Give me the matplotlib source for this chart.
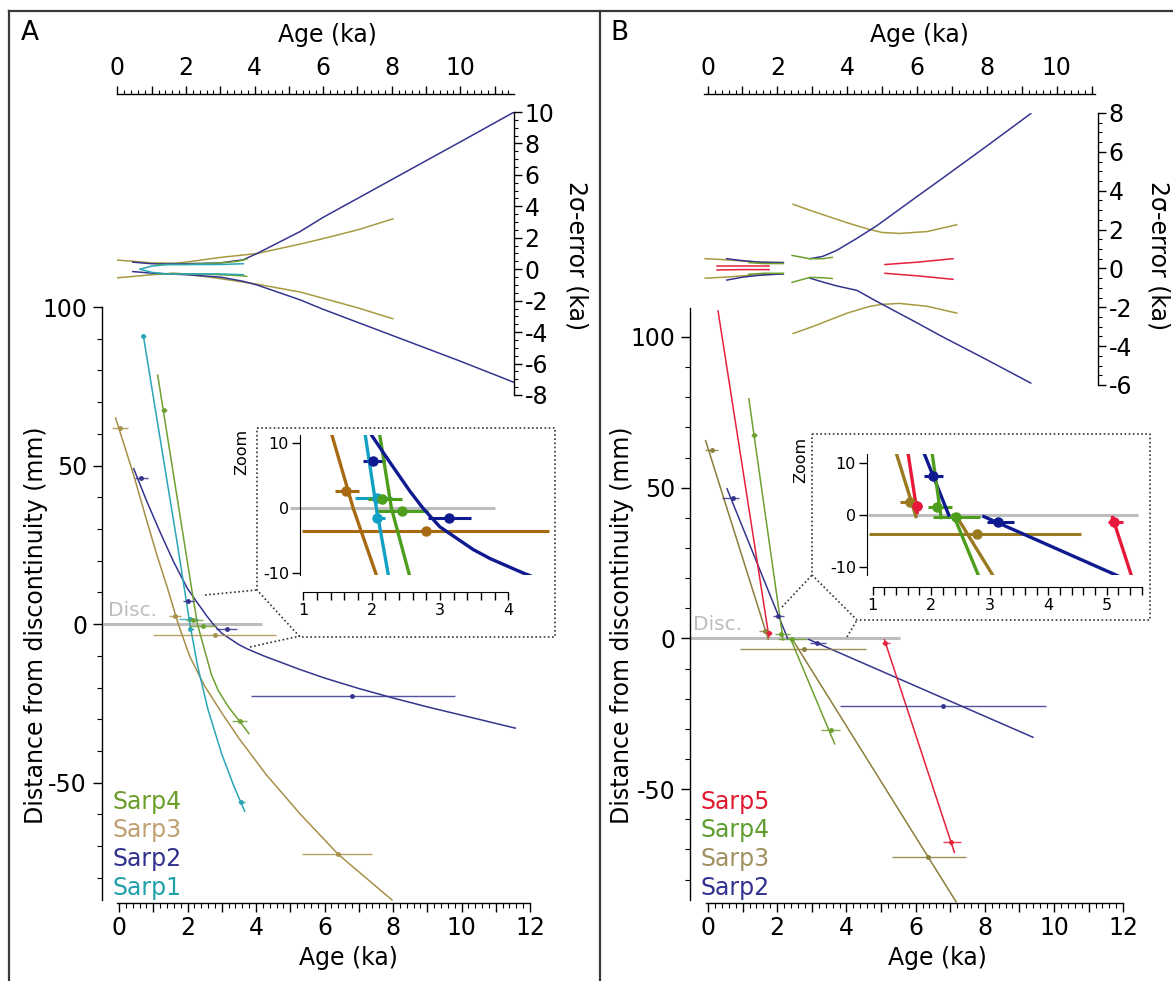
import numpy as np
import matplotlib.pyplot as plt
from matplotlib.ticker import MultipleLocator, FuncFormatter, FixedLocator
from matplotlib.lines import Line2D

W, H = 1173, 981
plt.rcParams['font.family'] = ['DejaVu Sans']
plt.rcParams['axes.unicode_minus'] = False

# ---------------- Panel A data ----------------
# fitted age-depth curves (age in ka, distance in mm)
a1_age = [0.71, 1.2, 1.7, 2.07, 2.3, 2.6, 3.0, 3.35, 3.67]
a1_dist = [91, 58.5, 25.5, 0, -13.5, -27, -41, -51, -59]
a2_age = [0.43, 0.8, 1.2, 1.6, 2.0, 2.27, 2.56, 2.75, 3.0, 3.49, 3.74, 4.22, 5.28, 6.0, 7.0, 8.0, 9.0, 10.0, 11.57]
a2_dist = [49, 39, 29, 19.5, 11.2, 7.0, 2.6, 0.0, -2.9, -6.4, -7.8, -10.0, -14.3, -17.0, -20.3, -23.3, -26.1, -28.7, -32.8]
a3_age = [-0.1, 0.4, 0.8, 1.1, 1.42, 1.73, 2.07, 2.5, 3.0, 3.5, 4.3, 5.3, 6.4, 7.97]
a3_dist = [65, 48, 33, 22, 11.2, 0, -10.3, -19.5, -28, -36, -47.5, -60, -72.6, -87]
a4_age = [1.13, 1.6, 2.12, 2.29, 2.52, 2.7, 2.9, 3.2, 3.52, 3.79]
a4_dist = [78.5, 46.5, 11.2, 0, -9, -16, -21, -26.2, -30.6, -34.5]

# dated samples: age, distance, 2-sigma range (low, high)
pa1_age, pa1_dist = [0.71, 2.08, 2.08, 3.57], [91, 1.5, -1.6, -56]
pa1_lo, pa1_hi = [0.65, 1.76, 2.03, 3.47], [0.78, 2.3, 2.2, 3.67]
pa2_age, pa2_dist = [0.63, 2.02, 3.14, 6.8], [46, 7.3, -1.5, -22.7]
pa2_lo, pa2_hi = [0.48, 1.87, 2.83, 3.85], [0.85, 2.2, 3.45, 9.8]
pa3_age, pa3_dist = [0.03, 1.63, 2.79, 6.4], [62, 2.6, -3.5, -72.6]
pa3_lo, pa3_hi = [-0.2, 1.47, 0.98, 5.35], [0.25, 1.81, 4.59, 7.4]
pa4_age, pa4_dist = [1.3, 2.15, 2.45, 3.53], [67.5, 1.4, -0.5, -30.6]
pa4_lo, pa4_hi = [1.22, 1.95, 2.05, 3.3], [1.4, 2.45, 2.83, 3.75]

# 2-sigma error envelopes
ea1_age = [0.66, 1.0, 1.45, 2.0, 2.5, 3.0, 3.67]
ea1_up = [0.0, 0.2, 0.3, 0.3, 0.3, 0.3, 0.35]
ea1_lo = [0.0, -0.2, -0.3, -0.3, -0.3, -0.3, -0.35]
ea2_age = [0.45, 1.0, 2.0, 3.0, 3.67, 4.07, 5.33, 6.0, 8.0, 10.0, 11.57]
ea2_up = [0.45, 0.35, 0.35, 0.4, 0.6, 1.0, 2.4, 3.3, 5.7, 8.1, 10.0]
ea2_lo = [-0.15, -0.25, -0.35, -0.5, -0.77, -1.0, -1.95, -2.55, -4.2, -5.85, -7.2]
ea3_age = [-0.13, 0.5, 1.0, 1.63, 2.0, 3.0, 4.07, 5.33, 6.0, 7.0, 8.03]
ea3_up = [0.6, 0.5, 0.4, 0.38, 0.45, 0.75, 1.0, 1.6, 1.95, 2.5, 3.2]
ea3_lo = [-0.57, -0.45, -0.35, -0.25, -0.3, -0.6, -0.95, -1.45, -1.85, -2.45, -3.15]
ea4_age = [1.13, 1.5, 2.0, 2.5, 3.0, 3.5, 3.77]
ea4_up = [0.3, 0.3, 0.3, 0.35, 0.4, 0.5, 0.64]
ea4_lo = [-0.3, -0.3, -0.3, -0.3, -0.35, -0.4, -0.45]

discA = [-0.47, 4.18]
discA_zoom = [0.8, 3.8]

# ---------------- Panel B data ----------------
b2_age1, b2_dist1 = [0.55, 2.3], [49.6, 0.0]
b2_age2, b2_dist2 = [2.9, 9.39], [-0.3, -32.8]
b3_age1, b3_dist1 = [-0.07, 1.74], [65.6, -0.3]
b3_age2, b3_dist2 = [2.42, 7.17], [0.0, -87.4]
b4_age1, b4_dist1 = [1.18, 2.17], [79.5, -0.5]
b4_age2, b4_dist2 = [2.38, 3.66], [0.0, -35.0]
b5_age1, b5_dist1 = [0.29, 1.76], [108.6, 0.5]
b5_age2, b5_dist2 = [5.1, 7.12], [-0.5, -71.0]

pb2_age, pb2_dist = [0.72, 2.03, 3.15, 6.8], [46.7, 7.5, -1.4, -22.5]
pb2_lo, pb2_hi = [0.4, 1.88, 2.95, 3.8], [0.9, 2.2, 3.42, 9.77]
pb3_age, pb3_dist = [0.11, 1.64, 2.78, 6.36], [62.6, 2.5, -3.6, -72.5]
pb3_lo, pb3_hi = [-0.08, 1.47, 0.93, 5.32], [0.29, 1.78, 4.56, 7.46]
pb4_age, pb4_dist = [1.33, 2.1, 2.42, 3.55], [67.5, 1.6, -0.3, -30.5]
pb4_lo, pb4_hi = [1.25, 1.95, 2.03, 3.27], [1.42, 2.36, 2.83, 3.8]
pb5_age, pb5_dist = [1.76, 5.12, 7.02], [1.8, -1.4, -67.5]
pb5_lo, pb5_hi = [1.69, 5.03, 6.8], [1.84, 5.27, 7.3]

eb2_age1, eb2_up1, eb2_lo1 = [0.55, 1.0, 1.5, 2.17], [0.5, 0.4, 0.32, 0.3], [-0.6, -0.45, -0.35, -0.28]
eb2_age2 = [2.93, 3.3, 3.7, 4.28, 4.85, 6.0, 6.66, 8.0, 9.26]
eb2_up2 = [0.5, 0.62, 0.93, 1.55, 2.2, 3.7, 4.55, 6.3, 7.97]
eb2_lo2 = [-0.5, -0.7, -0.9, -1.13, -1.7, -2.8, -3.45, -4.7, -5.9]
eb3_age1, eb3_up1, eb3_lo1 = [-0.07, 0.5, 1.0, 1.5, 2.17], [0.5, 0.45, 0.38, 0.32, 0.3], [-0.5, -0.45, -0.38, -0.32, -0.28]
eb3_age2 = [2.45, 3.0, 3.5, 4.0, 4.65, 5.0, 5.5, 6.3, 7.14]
eb3_up2 = [3.3, 2.95, 2.65, 2.35, 2.0, 1.85, 1.8, 1.9, 2.25]
eb3_lo2 = [-3.35, -3.0, -2.65, -2.3, -1.95, -1.85, -1.8, -1.95, -2.3]
eb4_age1, eb4_up1, eb4_lo1 = [1.18, 1.6, 2.17], [0.3, 0.25, 0.25], [-0.3, -0.25, -0.25]
eb4_age2, eb4_up2, eb4_lo2 = [2.42, 2.93, 3.3, 3.57], [0.67, 0.5, 0.5, 0.57], [-0.72, -0.46, -0.48, -0.52]
eb5_age1, eb5_up1, eb5_lo1 = [0.27, 1.0, 1.76], [0.12, 0.12, 0.12], [-0.08, -0.06, -0.06]
eb5_age2, eb5_up2, eb5_lo2 = [5.08, 6.0, 7.03], [0.2, 0.32, 0.5], [-0.25, -0.38, -0.56]

discB = [-0.52, 5.55]
discB_zoom = [0.92, 5.53]

# colours
GREY = '#bdbdbd'
c1, c1z = '#2aa5b5', '#12a0c4'
c2, c2z = '#35358f', '#101a90'
c3, c3z = '#a8904a', '#a86a10'
c3b, c3bz = '#8c7e3a', '#9a7a20'
c4, c4z = '#6ea030', '#4e9e1e'
c5, c5z = '#e6203c', '#e8183a'
ce3 = '#a89a40'

fig = plt.figure(figsize=(W / 100, H / 100), dpi=100)
fig.patch.set_facecolor('white')


def px_ax(x0, y0, x1, y1):
    ax = fig.add_axes([x0 / W, 1 - y1 / H, (x1 - x0) / W, (y1 - y0) / H])
    ax.patch.set_visible(False)
    return ax


def ftext(x, y, s, **kw):
    fig.text(x / W, 1 - y / H, s, **kw)


def fline(xs, ys, **kw):
    fig.add_artist(Line2D([x / W for x in xs], [1 - y / H for y in ys], **kw))


def even_fmt(v, p):
    r = int(round(v))
    return str(r) if r % 2 == 0 else ''


def style_main(ax, xlim, ylim, left_out):
    ax.set_xlim(*xlim)
    ax.set_ylim(*ylim)
    ax.spines['top'].set_visible(False)
    ax.spines['right'].set_visible(False)
    ax.spines['left'].set_position(('outward', left_out))
    ax.spines['bottom'].set_position(('outward', 2))
    for s in ['left', 'bottom']:
        ax.spines[s].set_linewidth(1.0)
    ax.xaxis.set_major_locator(MultipleLocator(1))
    ax.xaxis.set_major_formatter(FuncFormatter(even_fmt))
    ax.xaxis.set_minor_locator(MultipleLocator(0.2))
    ax.yaxis.set_major_locator(MultipleLocator(50))
    ax.yaxis.set_minor_locator(MultipleLocator(10))
    ax.tick_params(which='major', length=6.5, width=1, labelsize=17)
    ax.tick_params(which='minor', length=3.5, width=0.8)
    ax.tick_params(axis='x', pad=3)
    ax.tick_params(axis='y', pad=4)


def style_err(ax, xlim, ylim, top_out, right_out):
    ax.set_xlim(*xlim)
    ax.set_ylim(*ylim)
    ax.spines['left'].set_visible(False)
    ax.spines['bottom'].set_visible(False)
    ax.spines['top'].set_position(('outward', top_out))
    ax.spines['right'].set_position(('outward', right_out))
    for s in ['top', 'right']:
        ax.spines[s].set_linewidth(1.0)
    ax.xaxis.tick_top()
    ax.yaxis.tick_right()
    ax.xaxis.set_major_locator(MultipleLocator(1))
    ax.xaxis.set_major_formatter(FuncFormatter(even_fmt))
    ax.xaxis.set_minor_locator(MultipleLocator(0.2))
    ax.yaxis.set_major_locator(MultipleLocator(2))
    ax.yaxis.set_minor_locator(MultipleLocator(0.5))
    ax.tick_params(which='major', length=6, width=1, labelsize=17)
    ax.tick_params(which='minor', length=3, width=0.8)
    ax.tick_params(axis='x', pad=4)
    ax.tick_params(axis='y', pad=1.5)


def style_zoom(ax, xlim, ylim, xspine, yspine, xmax):
    ax.set_xlim(*xlim)
    ax.set_ylim(*ylim)
    ax.spines['top'].set_visible(False)
    ax.spines['right'].set_visible(False)
    ax.spines['left'].set_position(('data', xspine))
    ax.spines['bottom'].set_position(('data', yspine))
    ax.spines['bottom'].set_bounds(1, xmax)
    ax.xaxis.set_major_locator(FixedLocator(np.arange(1, int(xmax) + 1)))
    ax.xaxis.set_minor_locator(FixedLocator(np.arange(1, xmax + 0.01, 0.2)))
    ax.yaxis.set_major_locator(FixedLocator([-10, 0, 10]))
    ax.tick_params(which='both', length=6, width=1, labelsize=11.5, pad=2)


def draw_main(ax, lines, pts, disc):
    ax.plot(disc, [0, 0], color=GREY, lw=2.2, clip_on=False, solid_capstyle='butt')
    for ages, dists, c in lines:
        ax.plot(ages, dists, color=c, lw=1.1, clip_on=False)
    for ages, dists, lo, hi, c in pts:
        ax.hlines(dists, lo, hi, color=c, lw=1.0, alpha=0.85, clip_on=False)
        ax.plot(ages, dists, 'o', ms=2.5, color=c, clip_on=False)


def draw_zoom(ax, lines, pts, disc):
    ax.plot(disc, [0, 0], color=GREY, lw=2.2, solid_capstyle='butt')
    for ages, dists, lo, hi, c in pts:
        ax.hlines(dists, lo, hi, color=c, lw=2.2)
    for ages, dists, c in lines:
        ax.plot(ages, dists, color=c, lw=2.4)
    for ages, dists, lo, hi, c in pts:
        ax.plot(ages, dists, 'o', ms=6.5, color=c)


def draw_err(ax, env):
    for ages, up, lo, c in env:
        ax.plot(ages, up, color=c, lw=1.1)
        ax.plot(ages, lo, color=c, lw=1.1)


# ---------------- Panel A ----------------
axA = px_ax(117.3, 307, 530, 900)
style_main(axA, (-0.05, 12), (-87, 100), 11.3)
linesA = [(a3_age, a3_dist, c3), (a2_age, a2_dist, c2), (a1_age, a1_dist, c1), (a4_age, a4_dist, c4)]
ptsA = [(pa3_age, pa3_dist, pa3_lo, pa3_hi, c3), (pa2_age, pa2_dist, pa2_lo, pa2_hi, c2),
        (pa1_age, pa1_dist, pa1_lo, pa1_hi, c1), (pa4_age, pa4_dist, pa4_lo, pa4_hi, c4)]
draw_main(axA, linesA, ptsA, discA)

eA = px_ax(117.4, 112, 514.2, 395)
style_err(eA, (0, 11.57), (-8, 10), 12.7, 0)
draw_err(eA, [(ea3_age, ea3_up, ea3_lo, ce3), (ea2_age, ea2_up, ea2_lo, c2),
              (ea4_age, ea4_up, ea4_lo, c4), (ea1_age, ea1_up, ea1_lo, c1)])

zA = px_ax(286.2, 435.2, 552.6, 575)
style_zoom(zA, (0.75, 4.65), (-10.3, 11.2), 0.952, -12.92, 4)
linesAz = [(a3_age, a3_dist, c3z), (a1_age, a1_dist, c1z), (a4_age, a4_dist, c4z), (a2_age, a2_dist, c2z)]
ptsAz = [(pa3_age, pa3_dist, pa3_lo, pa3_hi, c3z), (pa1_age, pa1_dist, pa1_lo, pa1_hi, c1z),
         (pa4_age, pa4_dist, pa4_lo, pa4_hi, c4z), (pa2_age, pa2_dist, pa2_lo, pa2_hi, c2z)]
draw_zoom(zA, linesAz, ptsAz, discA_zoom)

# ---------------- Panel B ----------------
axB = px_ax(706.3, 308, 1123.2, 900)
style_main(axB, (-0.05, 12), (-86.8, 109.6), 11.7)
linesB = [(b3_age1, b3_dist1, c3b), (b3_age2, b3_dist2, c3b), (b2_age1, b2_dist1, c2), (b2_age2, b2_dist2, c2),
          (b4_age1, b4_dist1, c4), (b4_age2, b4_dist2, c4), (b5_age1, b5_dist1, c5), (b5_age2, b5_dist2, c5)]
ptsB = [(pb3_age, pb3_dist, pb3_lo, pb3_hi, c3b), (pb2_age, pb2_dist, pb2_lo, pb2_hi, c2),
        (pb4_age, pb4_dist, pb4_lo, pb4_hi, c4), (pb5_age, pb5_dist, pb5_lo, pb5_hi, c5)]
draw_main(axB, linesB, ptsB, discB)

eB = px_ax(704.1, 113, 1095, 385)
style_err(eB, (-0.1, 11.1), (-6, 8), 13.5, 2.2)
draw_err(eB, [(eb3_age1, eb3_up1, eb3_lo1, ce3), (eb3_age2, eb3_up2, eb3_lo2, ce3),
              (eb2_age1, eb2_up1, eb2_lo1, c2), (eb2_age2, eb2_up2, eb2_lo2, c2),
              (eb4_age1, eb4_up1, eb4_lo1, c4), (eb4_age2, eb4_up2, eb4_lo2, c4),
              (eb5_age1, eb5_up1, eb5_lo1, c5), (eb5_age2, eb5_up2, eb5_lo2, c5)])

zB = px_ax(863.9, 454, 1147.7, 575)
style_zoom(zB, (0.85, 5.7), (-11.6, 11.8), 0.903, -13.93, 5.6)
linesBz = [(b3_age1, b3_dist1, c3bz), (b3_age2, b3_dist2, c3bz), (b5_age1, b5_dist1, c5z), (b5_age2, b5_dist2, c5z),
           (b2_age1, b2_dist1, c2z), (b2_age2, b2_dist2, c2z), (b4_age1, b4_dist1, c4z), (b4_age2, b4_dist2, c4z)]
ptsBz = [(pb3_age, pb3_dist, pb3_lo, pb3_hi, c3bz), (pb5_age, pb5_dist, pb5_lo, pb5_hi, c5z),
         (pb2_age, pb2_dist, pb2_lo, pb2_hi, c2z), (pb4_age, pb4_dist, pb4_lo, pb4_hi, c4z)]
draw_zoom(zB, linesBz, ptsBz, discB_zoom)

# ---------------- text ----------------
fs = 17
ftext(30, 33, 'A', fontsize=19, ha='center', va='center')
ftext(619, 33, 'B', fontsize=19, ha='center', va='center')
for xc in (327, 919):
    ftext(xc, 35, 'Age (ka)', fontsize=fs, ha='center', va='center')
for xc in (348, 937):
    ftext(xc, 958, 'Age (ka)', fontsize=fs, ha='center', va='center')
for xc in (577, 1159):
    ftext(xc, 256, '2σ-error (ka)', fontsize=fs, ha='center', va='center', rotation=270)
for xc in (36, 622):
    ftext(xc, 625, 'Distance from discontinuity (mm)', fontsize=fs, ha='center', va='center', rotation=90)
ftext(108, 610, 'Disc.', fontsize=14.5, color=GREY, ha='left', va='center')
ftext(693, 625, 'Disc.', fontsize=14.5, color=GREY, ha='left', va='center')
ftext(242, 452, 'Zoom', fontsize=11.5, ha='center', va='center', rotation=90)
ftext(801, 460, 'Zoom', fontsize=11.5, ha='center', va='center', rotation=90)

legA = [('Sarp4', '#6a9e2a'), ('Sarp3', '#c0a070'), ('Sarp2', '#30308f'), ('Sarp1', '#20a0a8')]
legB = [('Sarp5', '#e01a30'), ('Sarp4', '#5e9e30'), ('Sarp3', '#a09060'), ('Sarp2', '#303090')]
for i, (name, col) in enumerate(legA):
    ftext(113, 802 + 28.5 * i, name, fontsize=fs, color=col, ha='left', va='center')
for i, (name, col) in enumerate(legB):
    ftext(701, 802 + 28.5 * i, name, fontsize=fs, color=col, ha='left', va='center')

# ---------------- frames and zoom boxes ----------------
frame = dict(color='#3a3a3a', lw=1.6)
fline([9, 9], [11, 981], **frame)
fline([9, 1173], [11, 11], **frame)
fline([600, 600], [11, 981], **frame)

dot = dict(color='#333333', lw=1.2, ls=(0, (1, 1.5)))
fline([257, 555, 555, 300, 257, 257], [428, 428, 637, 637, 590, 428], **dot)
fline([205, 257], [595, 590], **dot)
fline([250, 300], [647, 636], **dot)
fline([812, 1150, 1150, 857, 812, 812], [434, 434, 620, 620, 575, 434], **dot)
fline([782, 812], [607, 575], **dot)
fline([847, 857], [637, 620], **dot)

fig.savefig('out.png', dpi=100)
